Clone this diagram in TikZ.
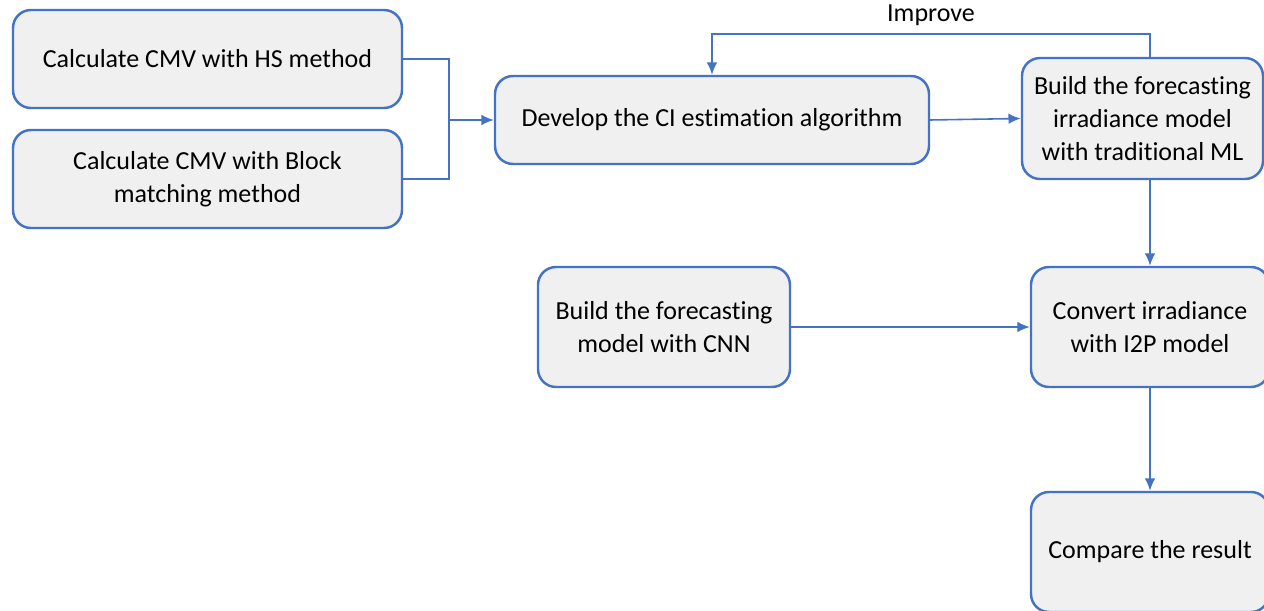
\documentclass[tikz,border=0pt]{standalone}
\usepackage{fontspec}
\setmainfont[Ligatures=NoCommon]{Carlito}
\usetikzlibrary{arrows.meta}

\definecolor{boxblue}{HTML}{4472C4}
\definecolor{boxfill}{HTML}{F0F0F0}

\tikzset{
  stepbox/.style={draw=boxblue,line width=1.4pt,fill=boxfill,rounded corners=0.36cm,
    align=center,font=\fontsize{14.8}{18.6}\selectfont,inner sep=0pt},
  link/.style={draw=boxblue,line width=0.9pt}
}

\begin{document}
\begin{tikzpicture}[>={Latex[length=7pt,width=6pt]}]

\useasboundingbox (0,0) rectangle (25.28,-12.22);

\node[stepbox,minimum width=7.78cm,minimum height=1.96cm] (hs) at (4.15,-1.18)
{Calculate CMV with HS method};

\node[stepbox,minimum width=7.78cm,minimum height=1.96cm] (bm) at (4.15,-3.58)
{Calculate CMV with Block\\matching method};

\node[stepbox,minimum width=8.68cm,minimum height=1.76cm] (ci) at (14.24,-2.40)
{Develop the CI estimation algorithm};

\node[stepbox,minimum width=4.82cm,minimum height=2.42cm] (ml) at (22.85,-2.37)
{Build the forecasting\\irradiance model\\with traditional ML};

\node[stepbox,minimum width=5.04cm,minimum height=2.40cm] (cnn) at (13.28,-6.54)
{Build the forecasting\\model with CNN};

\node[stepbox,minimum width=4.76cm,minimum height=2.40cm] (i2p) at (23.0,-6.54)
{Convert irradiance\\with I2P model};

\node[stepbox,minimum width=4.76cm,minimum height=2.40cm] (cmp) at (23.0,-11.04)
{Compare the result};

% merge of the two CMV methods
\coordinate (jn) at (8.98,-2.40);
\draw[link] (hs.east) -| (jn) |- (bm.east);
\draw[link,->] (jn) -- (ci.west);

\draw[link,->] (ci.east) -- (ml.west);

% feedback loop
\coordinate (up) at (23.0,-0.68);
\draw[link,->] (ml.north -| up) -- (up) -| (ci.north)
node[pos=0.25,above=1pt,font=\fontsize{14.8}{18}\selectfont]{Improve};

\draw[link,->] (ml.south -| i2p.north) -- (i2p.north);
\draw[link,->] (cnn.east) -- (i2p.west);
\draw[link,->] (i2p.south) -- (cmp.north);

\end{tikzpicture}
\end{document}
